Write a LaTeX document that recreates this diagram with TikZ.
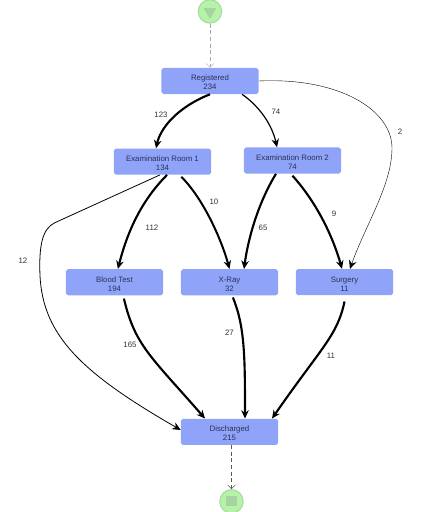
\documentclass[tikz,border=0pt]{standalone}
\usepackage{fontspec}
\setmainfont{Liberation Sans}
\usetikzlibrary{arrows.meta, positioning, calc, shapes.geometric}

\definecolor{boxblue}{HTML}{8FA4F8}
\definecolor{boxtext}{HTML}{2B3058}
\definecolor{endgreen}{HTML}{B6F3A8}
\definecolor{endline}{HTML}{A2DC9C}
\definecolor{endmark}{HTML}{A6D4A0}

\begin{document}
\begin{tikzpicture}[
>={Stealth[length=2.2mm,width=2mm]},
activity/.style={fill=boxblue, rounded corners=0.5mm, minimum width=2.57cm, minimum height=0.69cm, inner sep=0pt, align=center, text=boxtext, font=\fontsize{5.9}{6.8}\selectfont, text height=16.5pt, text depth=3.05pt},
terminal/.style={circle, fill=endgreen, draw=endline, thick, minimum size=0.62cm, inner sep=0pt},
count/.style={font=\fontsize{5.9}{6.8}\selectfont, text=black!80},
flow/.style={->, line width=#1, black},
flow/.default=1.5pt,
dash flow/.style={-{Straight Barb[length=1mm,width=2mm]}, densely dashed, line width=0.35pt, gray}
]
\useasboundingbox (-5.556,2.143) rectangle (5.741,-11.404);

% --- Nodes ---
\node[activity] (reg) {Registered\\234};
\node[terminal, above=1.164cm of reg] (start) {};
\node[activity, below=1.43cm of reg, xshift=-1.257cm] (exam1) {Examination Room 1\\134};
\node[activity, below=1.40cm of reg, xshift=2.183cm] (exam2) {Examination Room 2\\74};
\node[activity, below=2.487cm of exam1, xshift=-1.27cm] (blood) {Blood Test\\194};
\node[activity, below=2.487cm of exam1, xshift=1.773cm] (xray) {X-Ray\\32};
\node[activity, below=2.514cm of exam2, xshift=1.376cm] (surg) {Surgery\\11};
\node[activity, below=3.254cm of xray] (disch) {Discharged\\215};
\node[terminal, below=1.164cm of disch, xshift=0.053cm] (stop) {};

% --- Start and stop marks ---
\fill[endmark] ($(start)+(-0.17,0.09)$) -- ($(start)+(0.17,0.09)$) -- ($(start)+(0,-0.2)$) -- cycle;
\fill[endmark] ($(stop)+(-0.135,-0.135)$) rectangle ($(stop)+(0.135,0.135)$);

% --- Bend points ---
\coordinate (bendsurg) at ($(reg)+(4.816,-1.773)$);
\coordinate (bendleft) at ($(exam1)+(-2.844,-1.614)$);
\coordinate (bendlow) at ($(exam1)+(-3.241,-3.016)$);

% --- Dashed ends ---
\draw[dash flow, black!35] (start.south) -- (reg.north);
\draw[dash flow, black!65] ([xshift=0.053cm]disch.south) -- (stop.north);

% --- Registered ---
\draw[flow=1.6pt] (reg.south) .. controls +(-0.93,-0.37) and +(0.1,0.48) .. ([xshift=-0.17cm]exam1.north);
\draw[flow=0.9pt] ([xshift=0.85cm]reg.south) .. controls +(0.5,-0.35) and +(-0.12,0.55) .. ([xshift=-0.41cm]exam2.north);
\draw[flow=0.3pt] (reg.east) .. controls +(2.14,0.1) and +(0,1) .. (bendsurg) .. controls +(0,-0.98) and +(0.4,1.14) .. ([xshift=0.145cm]surg.north);

% --- Examination Room 1 ---
\draw[flow=1.6pt] ([xshift=0.12cm]exam1.south) .. controls +(-0.8,-0.8) and +(0.19,0.74) .. ([xshift=0.09cm]blood.north);
\draw[flow=1.5pt] ([xshift=0.5cm,yshift=-0.05cm]exam1.south) .. controls +(0.6,-0.6) and +(-0.2,0.74) .. (xray.north);
\draw[flow=0.6pt] ([xshift=-0.07cm]exam1.south) -- (bendleft) .. controls +(-0.34,-0.16) and +(-0.03,0.79) .. (bendlow) .. controls +(0.08,-1.59) and +(-2.62,1.51) .. ([yshift=0.05cm]disch.west);

% --- Examination Room 2 ---
\draw[flow=1.6pt] ([xshift=-0.437cm]exam2.south) .. controls +(-0.5,-0.82) and +(0.1,0.74) .. ([xshift=0.384cm]xray.north);
\draw[flow=1.6pt] ([yshift=-0.05cm]exam2.south) .. controls +(0.71,-0.79) and +(-0.21,0.74) .. ([xshift=-0.066cm]surg.north);

% --- Into Discharged ---
\draw[flow=1.6pt] ([xshift=0.25cm,yshift=-0.08cm]blood.south) .. controls +(0.29,-1.24) and +(-1.43,1.64) .. ([xshift=-0.648cm]disch.north);
\draw[flow=1.6pt] ([xshift=0.09cm,yshift=-0.05cm]xray.south) .. controls +(0.32,-0.77) and +(0,1.59) .. ([xshift=0.41cm]disch.north);
\draw[flow=1.6pt] ([yshift=-0.16cm]surg.south) .. controls +(-0.185,-0.9) and +(1.32,1.9) .. ([xshift=1.125cm]disch.north);

% --- Labels ---
\node[count] (l123) at ($(reg)+(-1.297,-0.9)$) {123};
\node[count] (l74) at ($(reg)+(1.746,-0.82)$) {74};
\node[count] (l2) at ($(reg)+(5.027,-1.349)$) {2};
\node[count] (l112) at ($(exam1)+(-0.278,-1.746)$) {112};
\node[count] (l10) at ($(exam1)+(1.363,-1.058)$) {10};
\node[count] (l12) at ($(exam1)+(-3.691,-2.62)$) {12};
\node[count] (l65) at ($(exam2)+(-0.78,-1.773)$) {65};
\node[count] (l9) at ($(exam2)+(1.098,-1.402)$) {9};
\node[count] (l165) at ($(blood)+(0.41,-1.667)$) {165};
\node[count] (l27) at ($(xray)+(0,-1.349)$) {27};
\node[count] (l11) at ($(surg)+(-0.357,-1.958)$) {11};

\end{tikzpicture}
\end{document}
